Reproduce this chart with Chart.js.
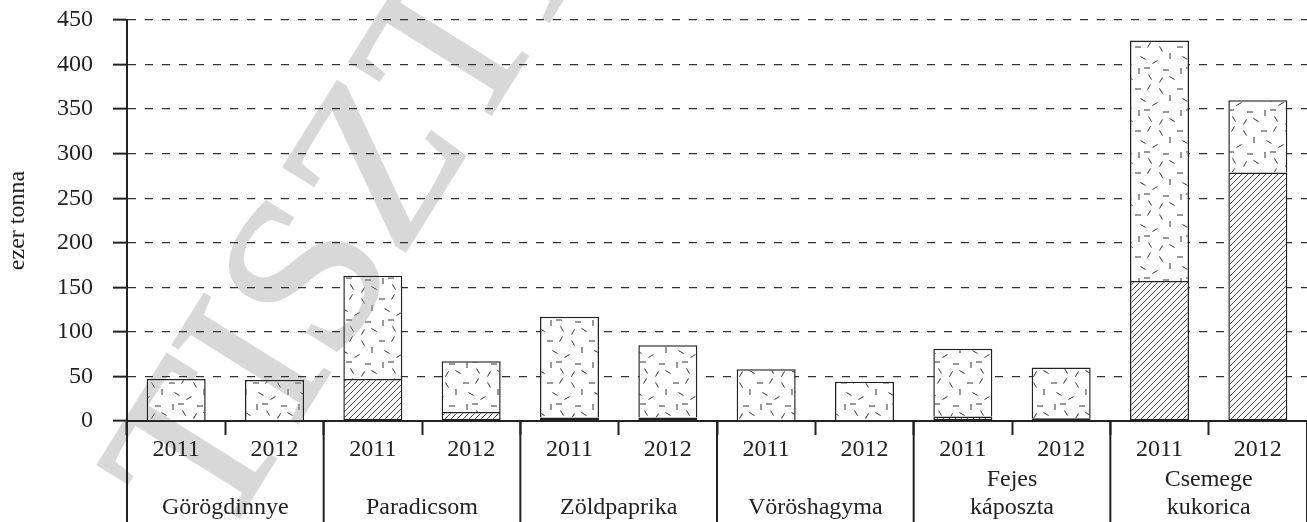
<!DOCTYPE html>
<html>
<head>
<meta charset="utf-8">
<script src="https://cdn.jsdelivr.net/npm/chart.js@4.4.1/dist/chart.umd.min.js"></script>
<style>
  body { margin: 0; background: #fff; }
  #wrap { width: 1307px; height: 522px; }
</style>
</head>
<body>
<div id="wrap"><canvas id="myChart"></canvas></div>
<script>
// adatok
const groups = ['Görögdinnye', 'Paradicsom', 'Zöldpaprika', 'Vöröshagyma', ['Fejes', 'káposzta'], ['Csemege', 'kukorica']];
const years = ['2011', '2012'];
const hatched = [0, 0, 47, 10, 4, 4, 0, 0, 5, 3, 157, 279];
const dotted = [47, 46, 116, 57, 113, 81, 58, 44, 76, 57, 270, 81];
const yTicks = [0, 50, 100, 150, 200, 250, 300, 350, 400, 450];

const labels = [];
groups.forEach(() => years.forEach(y => labels.push(y)));

const FONT = '"Liberation Serif", "Times New Roman", serif';
const INK = '#222';

// minta: ferde vonalak
function hatchPattern() {
  const c = document.createElement('canvas');
  c.width = 6; c.height = 6;
  const g = c.getContext('2d');
  g.fillStyle = '#fff';
  g.fillRect(0, 0, 6, 6);
  g.strokeStyle = '#333';
  g.lineWidth = 0.9;
  g.beginPath();
  g.moveTo(-1, 7); g.lineTo(7, -1);
  g.moveTo(-1, 1); g.lineTo(1, -1);
  g.moveTo(5, 7); g.lineTo(7, 5);
  g.stroke();
  return g.createPattern(c, 'repeat');
}

// minta: szórt rövid vonalkák
const dashes = [
  [4, 5, 0], [15, 3, 60], [27, 7, 120], [36, 14, 90], [9, 16, 150],
  [21, 20, 30], [32, 28, 0], [5, 29, 90], [16, 35, 120], [27, 38, 60],
  [38, 36, 150], [13, 26, 0]
];
function dotPattern() {
  const c = document.createElement('canvas');
  c.width = 42; c.height = 42;
  const g = c.getContext('2d');
  g.fillStyle = '#fff';
  g.fillRect(0, 0, 42, 42);
  g.strokeStyle = '#333';
  g.lineWidth = 1;
  dashes.forEach(([x, y, a]) => {
    const r = a * Math.PI / 180;
    const dx = Math.cos(r) * 3, dy = -Math.sin(r) * 3;
    g.beginPath();
    g.moveTo(x - dx, y - dy);
    g.lineTo(x + dx, y + dy);
    g.stroke();
  });
  return g.createPattern(c, 'repeat');
}

// csoportfeliratok és elválasztó vonalak
const groupAxis = {
  id: 'groupAxis',
  afterDraw(chart) {
    const { ctx, scales: { x }, chartArea } = chart;
    const half = (x.getPixelForValue(1) - x.getPixelForValue(0)) / 2;
    ctx.save();
    ctx.strokeStyle = INK;
    ctx.lineWidth = 2;
    for (let i = 0; i <= groups.length; i++) {
      const px = i < groups.length ? x.getPixelForValue(i * 2) - half : x.getPixelForValue(labels.length - 1) + half;
      ctx.beginPath();
      ctx.moveTo(px, chartArea.bottom);
      ctx.lineTo(px, chart.height);
      ctx.stroke();
    }
    ctx.fillStyle = INK;
    ctx.font = '24px ' + FONT;
    ctx.textAlign = 'center';
    ctx.textBaseline = 'middle';
    groups.forEach((g, i) => {
      const cx = (x.getPixelForValue(i * 2) + x.getPixelForValue(i * 2 + 1)) / 2;
      const lines = Array.isArray(g) ? g : [g];
      lines.forEach((t, k) => {
        ctx.fillText(t, cx, 508 - (lines.length - 1 - k) * 28);
      });
    });
    ctx.restore();
  }
};

// vízjel
const watermark = {
  id: 'watermark',
  afterDraw(chart) {
    const { ctx } = chart;
    ctx.save();
    ctx.globalCompositeOperation = 'darken';
    ctx.fillStyle = '#d8d8d8';
    ctx.strokeStyle = '#d8d8d8';
    ctx.lineWidth = 3;
    ctx.font = '225px ' + FONT;
    ctx.translate(221, 546);
    ctx.rotate(-58 * Math.PI / 180);
    ctx.fillText('TISZTELETPÉLDÁNY', 0, 0);
    ctx.strokeText('TISZTELETPÉLDÁNY', 0, 0);
    ctx.restore();
  }
};

const ctx = document.getElementById('myChart').getContext('2d');

new Chart(ctx, {
  type: 'bar',
  data: {
    labels: labels,
    datasets: [{
      label: 'a',
      data: hatched,
      backgroundColor: hatchPattern(),
      borderColor: INK,
      borderWidth: 1.5,
      borderSkipped: false
    }, {
      label: 'b',
      data: dotted,
      backgroundColor: dotPattern(),
      borderColor: INK,
      borderWidth: 1.5,
      borderSkipped: 'bottom'
    }]
  },
  plugins: [groupAxis, watermark],
  options: {
    responsive: true,
    maintainAspectRatio: false,
    animation: false,
    layout: { padding: { top: 20, right: 0, left: 0, bottom: 0 } },
    plugins: {
      legend: { display: false },
      tooltip: { enabled: false }
    },
    datasets: {
      bar: { categoryPercentage: 1, barPercentage: 0.6 }
    },
    scales: {
      x: {
        stacked: true,
        offset: true,
        afterFit: s => { s.height = 101; s.paddingLeft = 0; s.paddingRight = 0; },
        grid: {
          offset: true,
          drawOnChartArea: false,
          drawTicks: true,
          tickLength: 14,
          tickWidth: 2,
          tickColor: INK
        },
        border: { color: INK, width: 2 },
        ticks: {
          color: INK,
          font: { family: FONT, size: 24 },
          padding: 0,
          maxRotation: 0,
          autoSkip: false
        }
      },
      y: {
        stacked: true,
        min: 0,
        max: 450,
        afterFit: s => { s.width = 127; s.paddingTop = 0; s.paddingBottom = 0; },
        afterBuildTicks: s => { s.ticks = yTicks.map(v => ({ value: v })); },
        grid: {
          color: '#333',
          lineWidth: 1.3,
          tickLength: 14,
          tickWidth: 2,
          tickColor: INK,
          tickBorderDash: []
        },
        border: { color: INK, width: 2, dash: [8, 9] },
        title: {
          display: true,
          text: 'ezer tonna',
          color: INK,
          font: { family: FONT, size: 24 },
          padding: { top: 3, bottom: 0 }
        },
        ticks: {
          color: INK,
          font: { family: FONT, size: 24 },
          padding: 20
        }
      }
    }
  }
});
</script>
</body>
</html>
